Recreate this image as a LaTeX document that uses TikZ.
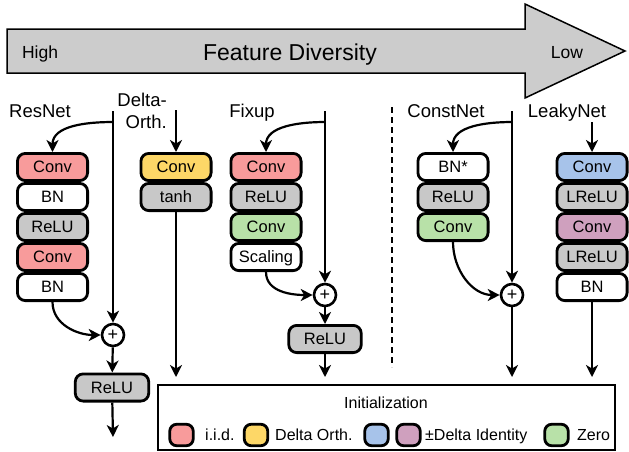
\documentclass[tikz,border=0pt]{standalone}
\usepackage{fontspec}
\setmainfont{Liberation Sans}
\usetikzlibrary{arrows.meta}

\definecolor{iidred}{HTML}{F89B9B}
\definecolor{deltayellow}{HTML}{FDD767}
\definecolor{idblue}{HTML}{A7C3EA}
\definecolor{idpurple}{HTML}{CFA0BE}
\definecolor{zerogreen}{HTML}{B8E1A8}
\definecolor{actgray}{HTML}{C8C8C8}
\definecolor{arrowgray}{HTML}{CCCCCC}

\tikzset{
	layer/.style={draw, fill=white, line width=2.8pt, rounded corners=8pt, minimum width=70.2pt, minimum height=27.2pt, inner sep=0pt, font=\fontsize{16.5}{18}\selectfont, text height=11.8pt, text depth=0pt},
	sum/.style={circle, draw, fill=white, line width=2.6pt, minimum size=22pt, inner sep=0pt, font=\fontsize{18}{18}\selectfont},
	title/.style={font=\fontsize{18.5}{22}\selectfont, inner sep=0pt, text height=13.3pt, text depth=0pt},
	swatch/.style={draw, line width=2.8pt, rounded corners=7pt, minimum width=23.5pt, minimum height=21.5pt, inner sep=0pt},
	legtext/.style={font=\fontsize{16}{18}\selectfont, inner sep=0pt, anchor=west, text height=11.5pt, text depth=0pt},
	flow/.style={line width=2.2pt}
}

\begin{document}
\begin{tikzpicture}[x=1pt, y=-1pt, >={Stealth[length=12pt, width=12pt, inset=3.5pt]}]
		\useasboundingbox (0, 0) rectangle (629, 451);

		\draw [fill=arrowgray, line width=1.5pt] (7, 29) -- (525, 29) -- (525, 4) -- (625, 51) -- (525, 98) -- (525, 73) -- (7, 73) -- cycle;
		\node [title, font=\fontsize{17.5}{20}\selectfont, text height=12.5pt] (55) at (40, 52) {High};
		\node [title, font=\fontsize{23}{26}\selectfont, text height=16.5pt] (56) at (290, 52) {Feature Diversity};
		\node [title, font=\fontsize{17.5}{20}\selectfont, text height=12.5pt] (57) at (567, 52) {Low};

		\node [title] (0) at (40, 111) {ResNet};
		\coordinate (1) at (113, 111);
		\coordinate (2) at (113, 122);
		\node [layer, fill=iidred] (3) at (52.5, 167) {Conv};
		\node [layer] (4) at (52.5, 197) {BN};
		\node [layer, fill=actgray] (5) at (52.5, 227) {ReLU};
		\node [layer, fill=iidred] (6) at (52.5, 257) {Conv};
		\node [layer] (7) at (52.5, 287) {BN};
		\node [sum] (8) at (113, 335) {+};
		\node [layer, fill=actgray, minimum width=73.5pt] (9) at (112, 387.5) {ReLU};
		\coordinate (10) at (113, 437);

		\node [title, align=right, anchor=east] (11) at (167, 122) {Delta-\\Orth.};
		\coordinate (12) at (176, 110);
		\node [layer, fill=deltayellow] (13) at (176, 167) {Conv};
		\node [layer, fill=actgray] (14) at (176, 197) {tanh};
		\coordinate (15) at (176, 377);

		\node [title] (16) at (252, 111) {Fixup};
		\coordinate (17) at (325, 111);
		\coordinate (18) at (325, 122);
		\node [layer, fill=iidred] (19) at (266, 167) {Conv};
		\node [layer, fill=actgray] (20) at (266, 197) {ReLU};
		\node [layer, fill=zerogreen] (21) at (266, 227) {Conv};
		\node [layer] (22) at (266, 257) {Scaling};
		\node [sum] (23) at (325, 295) {+};
		\node [layer, fill=actgray, minimum width=72.5pt] (24) at (325, 339) {ReLU};
		\coordinate (25) at (325, 377);

		\node [title] (26) at (446, 111) {ConstNet};
		\coordinate (27) at (512, 111);
		\coordinate (28) at (512, 122);
		\node [layer] (29) at (453, 167) {BN*};
		\node [layer, fill=actgray] (30) at (453, 197) {ReLU};
		\node [layer, fill=zerogreen] (31) at (453, 227) {Conv};
		\node [sum] (32) at (512, 295) {+};
		\coordinate (33) at (512, 377);

		\node [title] (34) at (567, 111) {LeakyNet};
		\coordinate (35) at (592, 122);
		\node [layer, fill=idblue] (36) at (592, 167) {Conv};
		\node [layer, fill=actgray] (37) at (592, 197) {LReLU};
		\node [layer, fill=idpurple] (38) at (592, 227) {Conv};
		\node [layer, fill=actgray] (39) at (592, 257) {LReLU};
		\node [layer] (40) at (592, 287) {BN};
		\coordinate (41) at (592, 377);

		\coordinate (42) at (392, 107);
		\coordinate (43) at (392, 367);

		\node [draw, line width=1.6pt, minimum width=457pt, minimum height=65pt, inner sep=0pt] (44) at (386.5, 417.5) {};
		\node [legtext, anchor=center] (45) at (386, 403) {Initialization};
		\node [swatch, fill=iidred] (46) at (181.5, 435) {};
		\node [legtext] (47) at (205, 435) {i.i.d.};
		\node [swatch, fill=deltayellow] (48) at (256, 435) {};
		\node [legtext] (49) at (275, 435) {Delta Orth.};
		\node [swatch, fill=idblue] (50) at (376.5, 435) {};
		\node [swatch, fill=idpurple] (51) at (408.5, 435) {};
		\node [legtext] (52) at (425, 435) {±Delta Identity};
		\node [swatch, fill=zerogreen] (53) at (556.5, 435) {};
		\node [legtext] (54) at (577, 435) {Zero};

		\draw [flow, ->] (1) to (8);
		\draw [flow, out=180, in=90, ->] (2) to (3);
		\draw [flow, out=-90, in=180, ->] (7) to (8);
		\draw [flow, ->] (8) to (9);
		\draw [flow, ->] (9) to (10);
		\draw [flow, ->] (12) to (13);
		\draw [flow, ->] (14) to (15);
		\draw [flow, ->] (17) to (23);
		\draw [flow, out=180, in=90, ->] (18) to (19);
		\draw [flow, out=-90, in=180, ->] (22) to (23);
		\draw [flow, ->] (23) to (24);
		\draw [flow, ->] (24) to (25);
		\draw [flow, ->] (27) to (32);
		\draw [flow, out=180, in=90, ->] (28) to (29);
		\draw [flow, out=-90, in=180, ->] (31) to (32);
		\draw [flow, ->] (32) to (33);
		\draw [flow, ->] (35) to (36);
		\draw [flow, ->] (40) to (41);
		\draw [flow, dash pattern=on 6pt off 4pt] (42) to (43);
\end{tikzpicture}
\end{document}
